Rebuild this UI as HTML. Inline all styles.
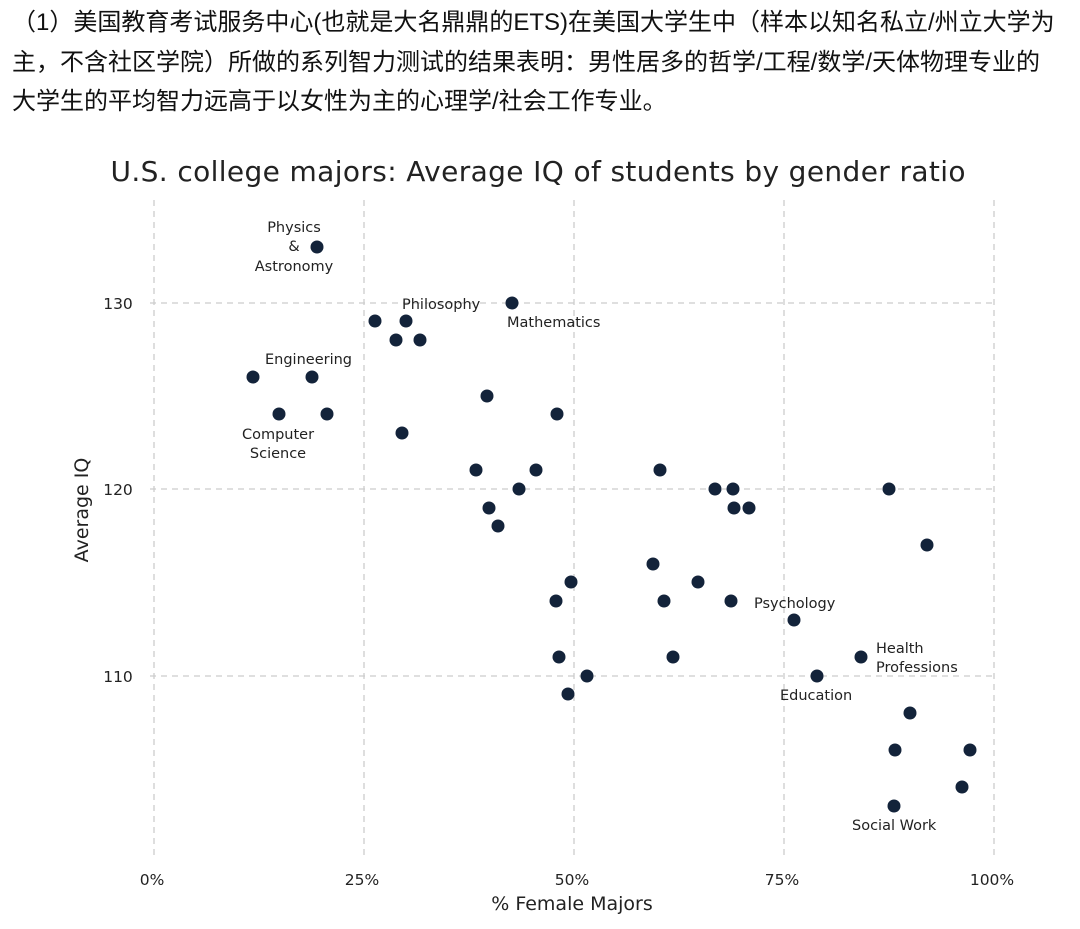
<!DOCTYPE html>
<html><head><meta charset="utf-8"><style>
body{margin:0;width:1080px;height:929px;background:#fff;overflow:hidden;position:relative}
.cn{position:absolute;left:12px;top:3px;width:1070px;white-space:nowrap;font-family:"Liberation Sans","Noto Sans CJK SC",sans-serif;font-size:24px;line-height:39.5px;color:#111}
</style></head><body>
<div class="cn">（1）美国教育考试服务中心(也就是大名鼎鼎的ETS)在美国大学生中（样本以知名私立/州立大学为<br>主，不含社区学院）所做的系列智力测试的结果表明：男性居多的哲学/工程/数学/天体物理专业的<br>大学生的平均智力远高于以女性为主的心理学/社会工作专业。</div>
<svg width="1080" height="929" style="position:absolute;left:0;top:0" font-family="DejaVu Sans, Liberation Sans, sans-serif">
<text x="538" y="181" text-anchor="middle" font-size="28" fill="#222" textLength="855">U.S. college majors: Average IQ of students by gender ratio</text>
<g stroke="#ccc" stroke-width="1.3" stroke-dasharray="6,5">
<line x1="154" y1="200" x2="154" y2="860"/><line x1="364" y1="200" x2="364" y2="860"/><line x1="574" y1="200" x2="574" y2="860"/><line x1="784" y1="200" x2="784" y2="860"/><line x1="994" y1="200" x2="994" y2="860"/>
<line x1="150" y1="303" x2="996" y2="303"/><line x1="150" y1="489" x2="996" y2="489"/><line x1="150" y1="676" x2="996" y2="676"/>
</g>
<g font-size="15.5" fill="#222" text-anchor="middle">
<text x="152" y="885">0%</text><text x="362" y="885">25%</text><text x="572" y="885">50%</text><text x="782" y="885">75%</text><text x="992" y="885">100%</text>
<text x="118" y="309">130</text><text x="118" y="495">120</text><text x="118" y="682">110</text>
</g>
<text x="572" y="910" text-anchor="middle" font-size="19" fill="#222">% Female Majors</text>
<text transform="translate(88,510) rotate(-90)" text-anchor="middle" font-size="19" fill="#222">Average IQ</text>
<g fill="#13233a">
<circle cx="317" cy="247" r="6.5"/><circle cx="375" cy="321" r="6.5"/><circle cx="406" cy="321" r="6.5"/><circle cx="396" cy="340" r="6.5"/><circle cx="420" cy="340" r="6.5"/><circle cx="512" cy="303" r="6.5"/><circle cx="253" cy="377" r="6.5"/><circle cx="312" cy="377" r="6.5"/><circle cx="279" cy="414" r="6.5"/><circle cx="327" cy="414" r="6.5"/><circle cx="402" cy="433" r="6.5"/><circle cx="487" cy="396" r="6.5"/><circle cx="557" cy="414" r="6.5"/><circle cx="476" cy="470" r="6.5"/><circle cx="536" cy="470" r="6.5"/><circle cx="519" cy="489" r="6.5"/><circle cx="489" cy="508" r="6.5"/><circle cx="498" cy="526" r="6.5"/><circle cx="660" cy="470" r="6.5"/><circle cx="715" cy="489" r="6.5"/><circle cx="733" cy="489" r="6.5"/><circle cx="734" cy="508" r="6.5"/><circle cx="749" cy="508" r="6.5"/><circle cx="889" cy="489" r="6.5"/><circle cx="927" cy="545" r="6.5"/><circle cx="653" cy="564" r="6.5"/><circle cx="571" cy="582" r="6.5"/><circle cx="556" cy="601" r="6.5"/><circle cx="664" cy="601" r="6.5"/><circle cx="698" cy="582" r="6.5"/><circle cx="731" cy="601" r="6.5"/><circle cx="794" cy="620" r="6.5"/><circle cx="559" cy="657" r="6.5"/><circle cx="587" cy="676" r="6.5"/><circle cx="568" cy="694" r="6.5"/><circle cx="673" cy="657" r="6.5"/><circle cx="817" cy="676" r="6.5"/><circle cx="861" cy="657" r="6.5"/><circle cx="910" cy="713" r="6.5"/><circle cx="895" cy="750" r="6.5"/><circle cx="970" cy="750" r="6.5"/><circle cx="962" cy="787" r="6.5"/><circle cx="894" cy="806" r="6.5"/>
</g>
<g font-size="14.5" fill="#222">
<text x="294" y="232" text-anchor="middle">Physics</text><text x="294" y="251" text-anchor="middle">&amp;</text><text x="294" y="271" text-anchor="middle">Astronomy</text>
<text x="402" y="309">Philosophy</text>
<text x="507" y="327">Mathematics</text>
<text x="265" y="364">Engineering</text>
<text x="278" y="439" text-anchor="middle">Computer</text><text x="278" y="458" text-anchor="middle">Science</text>
<text x="754" y="608">Psychology</text>
<text x="876" y="653">Health</text><text x="876" y="672">Professions</text>
<text x="780" y="700">Education</text>
<text x="852" y="830">Social Work</text>
</g>
</svg>
</body></html>
